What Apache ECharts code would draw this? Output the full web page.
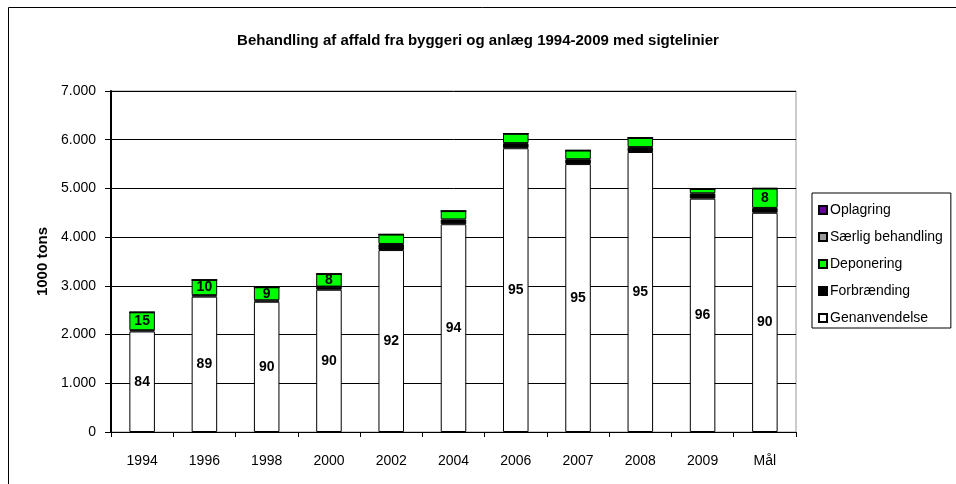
<!DOCTYPE html>
<html>
<head>
<meta charset="utf-8">
<script src="https://cdn.jsdelivr.net/npm/echarts@6/dist/echarts.min.js"></script>
<style>
  html, body { margin: 0; padding: 0; background: #fff; }
  #chart { width: 956px; height: 484px; }
</style>
</head>
<body>
<div id="chart"></div>
<script>
// kategorier (år)
var years = ['1994', '1996', '1998', '2000', '2002', '2004', '2006', '2007', '2008', '2009', 'Mål'];
// 1000 tons
var genanvendelse = [2064, 2778, 2674, 2920, 3735, 4265, 5825, 5500, 5748, 4790, 4500];
var forbraending = [25, 31, 30, 65, 125, 100, 105, 100, 100, 110, 100];
var deponering = [368, 312, 267, 260, 195, 170, 195, 180, 190, 90, 400];
var saerlig = [0, 0, 0, 0, 0, 0, 0, 0, 0, 0, 0];
var oplagring = [0, 0, 0, 0, 0, 0, 0, 0, 0, 0, 0];
// procent-etiketter
var genLabels = [84, 89, 90, 90, 92, 94, 95, 95, 95, 96, 90];
var depLabels = [15, 10, 9, 8, null, null, null, null, null, null, 8];
var yTicks = [0, 1000, 2000, 3000, 4000, 5000, 6000, 7000];

var font = 'Liberation Sans, Arial, sans-serif';

function fmt(v) {
  return String(v).replace(/\B(?=(\d{3})+(?!\d))/g, '.');
}

var myChart = echarts.init(document.getElementById('chart'));

var option = {
  animation: false,
  textStyle: { fontFamily: font, color: '#000' },
  title: {
    text: 'Behandling af affald fra byggeri og anlæg 1994-2009 med sigtelinier',
    left: 'center',
    top: 28,
    textStyle: { fontFamily: font, fontSize: 15, fontWeight: 'bold', color: '#000' }
  },
  graphic: [
    {
      type: 'rect',
      shape: { x: 8.5, y: 7.5, width: 960, height: 500 },
      style: { fill: 'none', stroke: '#000', lineWidth: 1 },
      silent: true,
      z: -1
    }
  ],
  legend: {
    orient: 'vertical',
    left: 812,
    top: 193,
    data: ['Oplagring', 'Særlig behandling', 'Deponering', 'Forbrænding', 'Genanvendelse'],
    itemWidth: 8,
    itemHeight: 8,
    itemGap: 13,
    icon: 'rect',
    padding: [10, 8, 3, 6],
    borderColor: '#000',
    borderWidth: 1,
    textStyle: { fontFamily: font, fontSize: 14, color: '#000', padding: [0, 0, 0, -2] }
  },
  grid: {
    left: 111,
    right: 160,
    top: 91,
    bottom: 52,
    show: true,
    borderColor: '#999',
    borderWidth: 1
  },
  xAxis: {
    type: 'category',
    data: years,
    axisLine: { lineStyle: { color: '#000', width: 1 } },
    axisTick: { show: true, length: 5, lineStyle: { color: '#000' } },
    axisLabel: { fontFamily: font, fontSize: 14, color: '#000', margin: 22 }
  },
  yAxis: {
    type: 'value',
    min: 0,
    max: 7000,
    interval: 1000,
    name: '1000 tons',
    nameLocation: 'middle',
    nameGap: 61,
    nameTextStyle: { fontFamily: font, fontSize: 15, fontWeight: 'bold', color: '#000' },
    axisLine: { show: true, lineStyle: { color: '#000', width: 2 } },
    axisTick: { show: true, length: 6, lineStyle: { color: '#000' } },
    axisLabel: {
      fontFamily: font, fontSize: 14, color: '#000', margin: 15,
      formatter: function (v) { return yTicks.indexOf(v) >= 0 ? fmt(v) : ''; }
    },
    splitLine: { lineStyle: { color: '#000', width: 1 } }
  },
  series: [
    {
      name: 'Genanvendelse',
      type: 'bar',
      stack: 'total',
      barWidth: '41%',
      data: genanvendelse,
      itemStyle: { color: '#fff', borderColor: '#000', borderWidth: 1 },
      label: {
        show: true,
        position: 'inside',
        fontFamily: font,
        fontSize: 14,
        fontWeight: 'bold',
        color: '#000',
        formatter: function (p) { return genLabels[p.dataIndex]; }
      }
    },
    {
      name: 'Forbrænding',
      type: 'bar',
      stack: 'total',
      data: forbraending,
      itemStyle: { color: '#000', borderColor: '#000', borderWidth: 1 }
    },
    {
      name: 'Deponering',
      type: 'bar',
      stack: 'total',
      data: deponering,
      itemStyle: { color: '#00ff00', borderColor: '#000', borderWidth: 1 },
      label: {
        show: true,
        position: 'inside',
        fontFamily: font,
        fontSize: 14,
        fontWeight: 'bold',
        color: '#000',
        formatter: function (p) {
          var v = depLabels[p.dataIndex];
          return v == null ? '' : v;
        }
      }
    },
    {
      name: 'Særlig behandling',
      type: 'bar',
      stack: 'total',
      data: saerlig,
      itemStyle: { color: '#999', borderColor: '#000', borderWidth: 1 }
    },
    {
      name: 'Oplagring',
      type: 'bar',
      stack: 'total',
      data: oplagring,
      itemStyle: { color: '#660099', borderColor: '#000', borderWidth: 1.5 }
    }
  ]
};

myChart.setOption(option);
</script>
</body>
</html>
